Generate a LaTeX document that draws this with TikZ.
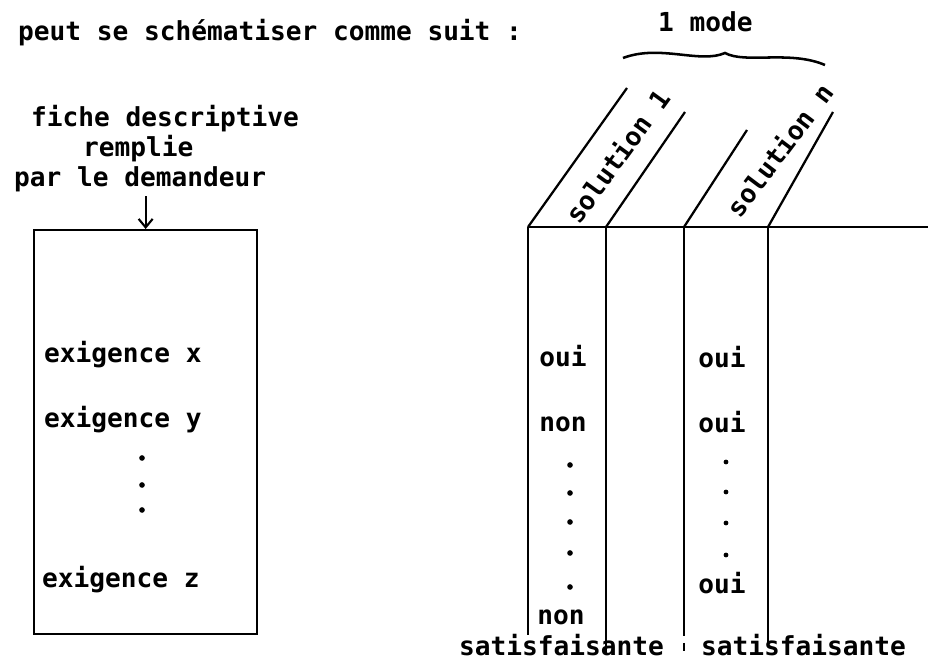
\documentclass[tikz,border=0pt]{standalone}
\usepackage{fontspec}
\setmonofont{DejaVu Sans Mono}
\usetikzlibrary{arrows.meta, positioning}

\begin{document}
\begin{tikzpicture}[x=0.025cm, y=-0.025cm, line width=1.6pt,
  txt/.style={font=\ttfamily\bfseries\fontsize{18.6}{22}\selectfont, inner sep=0pt, anchor=base west},
  cell/.style={txt, anchor=base}]
  \useasboundingbox (0,0) rectangle (928,661);

  % Title
  \node[txt] (titre) at (17,41) {peut se schématiser comme suit :};

  % Fiche descriptive (left)
  \node[txt] (fiche) at (30,127) {fiche descriptive};
  \node[txt] (remplie) at (82,157) {remplie};
  \node[txt] (demandeur) at (13,187) {par le demandeur};
  \node[draw, minimum width=5.575cm, minimum height=10.1cm, anchor=north west,
    inner sep=0pt] (boite) at (33,229) {};
  \draw[-{Straight Barb[length=6pt,width=10pt]}, line width=1.5pt, shorten <=2pt]
    (demandeur.south -| boite.north) -- (boite.north);

  \node[txt] (exx) at (43,363) {exigence x};
  \node[txt] (exy) at (43,428) {exigence y};
  \foreach \y in {458, 485, 510}
    \fill (142,\y) circle[radius=2pt];
  \node[txt] (exz) at (41,588) {exigence z};

  % Tableau des solutions (right)
  \draw (528,227) -- (928,227);
  \draw (528,227) -- (528,635);
  \draw (606,227) -- (606,653);
  \draw (684,227) -- (684,636) (684,643) -- (684,651);
  \draw (768,227) -- (768,645);

  % slanted headers
  \draw (528,227) -- (627,88);
  \draw (606,227) -- (685,112);
  \draw (684,227) -- (747,130);
  \draw (768,227) -- (833,112);
  \node[txt, anchor=center, rotate=54] (sol1) at (617,156) {solution 1};
  \node[txt, anchor=center, rotate=53] (soln) at (779,150) {solution n};

  % 1 mode + accolade
  \node[txt] (mode) at (657,32) {1 mode};
  \draw[line width=1.8pt] (623,58) .. controls (660,44) and (700,64) .. (725,53)
    .. controls (745,64) and (790,50) .. (825,65);

  % solution 1
  \node[cell] (s1a) at (563,367) {oui};
  \node[cell] (s1b) at (563,432) {non};
  \foreach \y in {465, 493, 522, 553, 587}
    \fill (570,\y) circle[radius=2pt];
  \node[cell] (s1z) at (561,625) {non};
  \node[txt] (sat1) at (458,655) {satisfaisante};

  % solution n
  \node[cell] (sna) at (722,368) {oui};
  \node[cell] (snb) at (722,433) {oui};
  \foreach \y in {462, 492, 523, 555}
    \fill (726,\y) circle[radius=1.7pt];
  \node[cell] (snz) at (722,593) {oui};
  \node[txt] (satn) at (700,655) {satisfaisante};
\end{tikzpicture}
\end{document}
